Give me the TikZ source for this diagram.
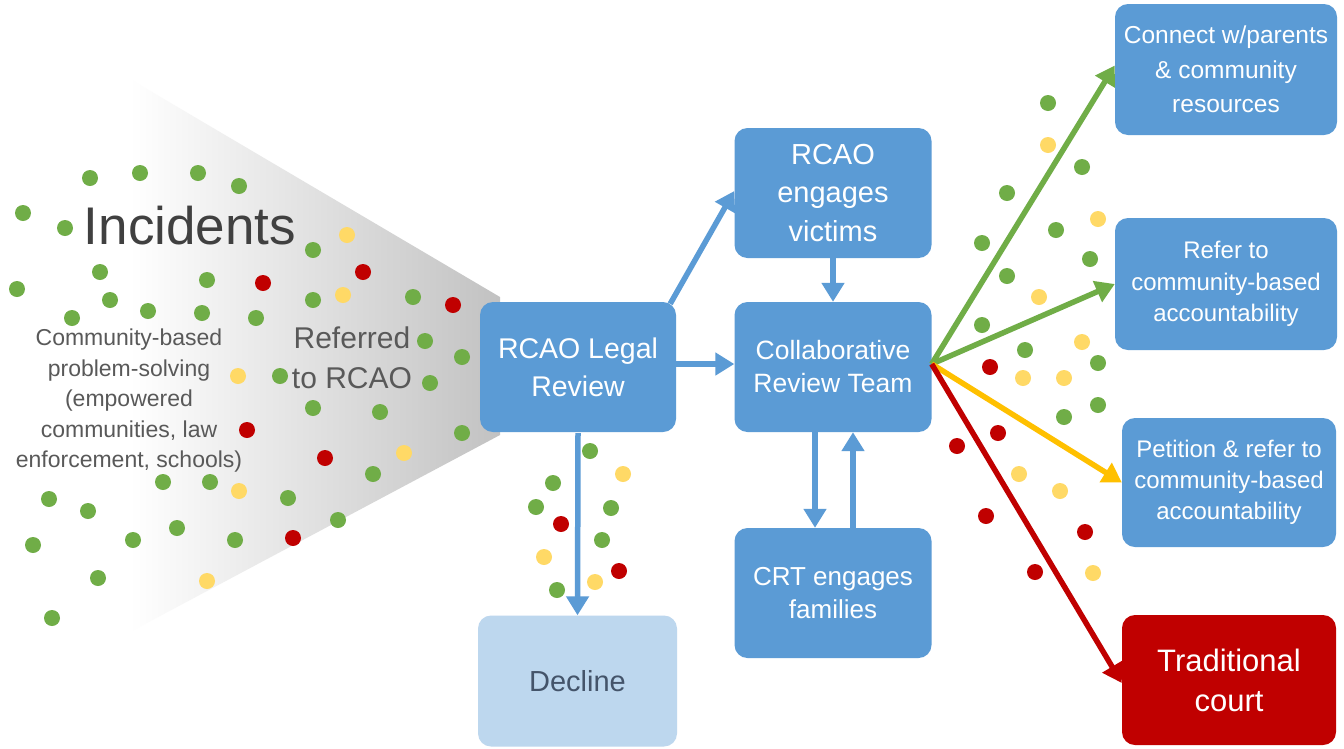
\documentclass[tikz,border=0pt]{standalone}
\usepackage{fontspec}
\setmainfont{Liberation Sans}
\usetikzlibrary{arrows.meta}
\definecolor{boxblue}{HTML}{5B9BD5}
\definecolor{paleblue}{HTML}{BDD7EE}
\definecolor{dgreen}{HTML}{70AD47}
\definecolor{dyellow}{HTML}{FFD966}
\definecolor{dred}{HTML}{C00000}
\definecolor{aorange}{HTML}{FFC000}
\definecolor{txtgray}{HTML}{595959}
\definecolor{txtdark}{HTML}{404040}
\definecolor{slate}{HTML}{44546A}
\tikzset{
  stepbox/.style={rectangle, rounded corners=13pt, fill=boxblue, draw=none,
    text=white, align=center, inner sep=0pt},
  flow/.style={line width=5.5pt, -{Triangle[width=22pt,length=19pt]}},
  gdot/.style={circle, fill=dgreen, minimum size=16pt, inner sep=0pt},
  ydot/.style={circle, fill=dyellow, minimum size=16pt, inner sep=0pt},
  rdot/.style={circle, fill=dred, minimum size=16pt, inner sep=0pt},
}
\newcommand{\fs}[2]{\fontsize{#1pt}{#2pt}\selectfont}
\begin{document}
\begin{tikzpicture}[x=1pt,y=-1pt]
\useasboundingbox (0,0) rectangle (1344,748);
\fill[white] (0,0) rectangle (1344,748);

% grey funnel behind the incidents
\shade[left color=white, right color=black!24, draw=none]
  (130,79) -- (500,297) -- (500,435) -- (130,632) -- cycle;

% incident dots, left field
\foreach \p in {(90,178),(140,173),(198,173),(239,186),(23,213),(65,228),
  (313,250),(100,272),(207,280),(17,289),(110,300),(313,300),(413,297),
  (72,318),(148,311),(202,313),(256,318),(425,341),(462,357),(280,376),
  (430,383),(313,408),(380,412),(462,433),(373,474),(163,482),(210,482),
  (288,498),(49,499),(88,511),(338,520),(177,528),(33,545),(133,540),
  (235,540),(98,578),(52,618)}
  \node[gdot] at \p {};
\foreach \p in {(347,235),(343,295),(238,376),(404,453),(239,491),(207,581)}
  \node[ydot] at \p {};
\foreach \p in {(263,283),(363,272),(453,305),(247,430),(325,458),(293,538)}
  \node[rdot] at \p {};

% dots around the decline path
\foreach \p in {(590,451),(553,483),(536,507),(611,508),(602,540),(557,590)}
  \node[gdot] at \p {};
\foreach \p in {(623,474),(544,557),(595,582)}
  \node[ydot] at \p {};
\foreach \p in {(561,524),(619,571)}
  \node[rdot] at \p {};

% dots along the outcome paths
\foreach \p in {(1048,103),(1082,167),(1007,193),(1056,230),(982,243),
  (1090,259),(1007,276),(982,325),(1025,350),(1098,363),(1098,405),(1064,417)}
  \node[gdot] at \p {};
\foreach \p in {(1048,145),(1098,219),(1039,297),(1082,342),(1023,378),
  (1064,378),(1019,474),(1060,491),(1093,573)}
  \node[ydot] at \p {};
\foreach \p in {(990,367),(998,433),(957,446),(986,516),(1085,532),(1035,572)}
  \node[rdot] at \p {};

% texts of the incident field
\node[text=txtdark, font=\fs{53}{60}] (inc) at (190,226) {Incidents};
\node[text=txtgray, align=center, font=\fs{23}{30.5}] (cbps) at (129,401)
  {Community-based\\problem-solving\\(empowered\\communities, law\\enforcement, schools)};
\node[text=txtgray, align=center, font=\fs{30}{40}] (ref) at (352,358)
  {Referred\\to RCAO};

% process boxes
\node[stepbox, minimum width=196pt, minimum height=130pt, font=\fs{28.5}{38}]
  (legal) at (578,367) {RCAO Legal\\Review};
\node[stepbox, minimum width=197pt, minimum height=130pt, font=\fs{29}{38.5}]
  (victims) at (833,193) {RCAO\\engages\\victims};
\node[stepbox, minimum width=197pt, minimum height=130pt, font=\fs{26.5}{33}]
  (crt) at (833,367) {Collaborative\\Review Team};
\node[stepbox, minimum width=197pt, minimum height=130pt, font=\fs{26}{33}]
  (fam) at (833,593) {CRT engages\\families};
\node[stepbox, fill=paleblue, text=slate, minimum width=199pt, minimum height=131pt,
  font=\fs{29}{36}] (decline) at (577.5,681) {Decline};

% outcome boxes
\node[stepbox, minimum width=222pt, minimum height=131pt, font=\fs{24.5}{34.5}]
  (connect) at (1226,69.5) {Connect w/parents\\\& community\\resources};
\node[stepbox, minimum width=222pt, minimum height=132pt, font=\fs{24}{31.5}]
  (referbox) at (1226,284) {Refer to\\community-based\\accountability};
\node[stepbox, minimum width=214pt, minimum height=129pt, font=\fs{24}{31}]
  (petition) at (1229,482.5) {Petition \& refer to\\community-based\\accountability};
\node[stepbox, fill=dred, minimum width=214pt, minimum height=130pt, font=\fs{31}{40}]
  (court) at (1229,680) {Traditional\\court};

% blue flow arrows
\draw[flow, boxblue] ([xshift=-6pt,yshift=-2pt]legal.north east) -- ([yshift=2pt]victims.west);
\draw[flow, boxblue] ([yshift=3pt]legal.east) -- ([yshift=3pt]crt.west);
\draw[flow, boxblue] (victims.south) -- (crt.north);
\draw[flow, boxblue] ([xshift=-18pt]crt.south) -- ([xshift=-18pt]fam.north);
\draw[flow, boxblue] ([xshift=20pt]fam.north) -- ([xshift=20pt]crt.south);
\draw[flow, boxblue] ([yshift=-1pt]legal.south) -- (decline.north);

% coloured outcome arrows
\coordinate (hub) at ([yshift=3pt]crt.east);
\draw[flow, dgreen] (hub) -- ([yshift=4pt]connect.west);
\draw[flow, dgreen] (hub) -- (referbox.west);
\draw[flow, aorange] (hub) -- (petition.west);
\draw[flow, dred] (hub) -- ([yshift=-3pt]court.west);
\end{tikzpicture}
\end{document}
